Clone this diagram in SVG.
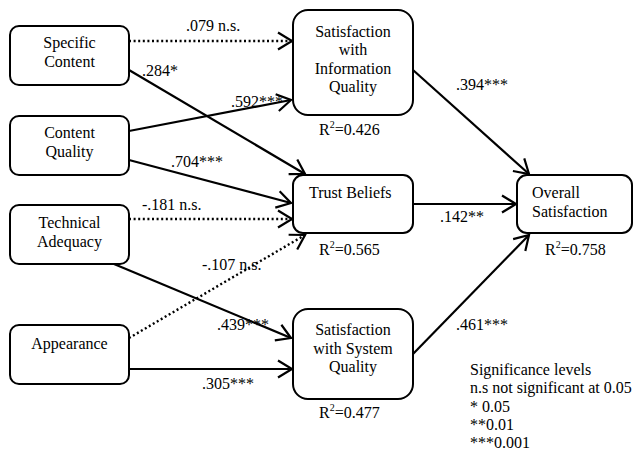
<svg xmlns="http://www.w3.org/2000/svg" width="634" height="452" viewBox="0 0 634 452">
<style>
text{font-family:"Liberation Serif","Times New Roman",serif;font-size:16px;fill:#000}
.box{fill:#fff;stroke:#000;stroke-width:2}
.c{text-anchor:middle}
.e{fill:none;stroke:#000;stroke-width:2.2;marker-end:url(#ah)}
.d{stroke-dasharray:2 2.6;stroke-width:2.4}
.sup{font-size:10px}
</style>
<defs>
<marker id="ah" markerUnits="userSpaceOnUse" markerWidth="20" markerHeight="20" viewBox="-16 -10 18 20" refX="0" refY="0" orient="auto" overflow="visible">
<path d="M-14,-8.5 L0,0 L-14,8.5" fill="none" stroke="#000" stroke-width="2.2" stroke-dasharray="none"/>
</marker>
</defs>
<rect width="634" height="452" fill="#fff"/>
<g id="connectors">
<line class="e d" x1="129" y1="41" x2="292" y2="41"/>
<line class="e" x1="129" y1="70" x2="305" y2="174"/>
<line class="e" x1="129" y1="131" x2="291" y2="100"/>
<line class="e" x1="129" y1="160" x2="291" y2="203"/>
<line class="e d" x1="129" y1="219" x2="292" y2="219"/>
<line class="e d" x1="129" y1="338" x2="305" y2="235"/>
<line class="e" x1="114" y1="264" x2="291" y2="338"/>
<line class="e" x1="129" y1="369" x2="292" y2="369"/>
<line class="e" x1="413" y1="70" x2="529" y2="174"/>
<line class="e" x1="413" y1="204" x2="516" y2="204"/>
<line class="e" x1="413" y1="354" x2="529" y2="235"/>
<text x="186" y="31">.079 n.s.</text>
<text x="142" y="76">.284*</text>
<text x="231" y="107">.592***</text>
<text x="171" y="167">.704***</text>
<text x="142" y="210">-.181 n.s.</text>
<text x="202" y="270">-.107 n.s.</text>
<text x="217" y="330">.439***</text>
<text x="202" y="389">.305***</text>
<text x="456" y="90">.394***</text>
<text x="440" y="222">.142**</text>
<text x="456" y="330">.461***</text>
</g>
<g id="specific-content">
<rect class="box" x="10" y="26" width="119" height="59" rx="9"/>
<text class="c" x="69.5" y="48">Specific</text>
<text class="c" x="69.5" y="67">Content</text>
</g>
<g id="content-quality">
<rect class="box" x="10" y="116" width="119" height="59" rx="9"/>
<text class="c" x="69.5" y="138">Content</text>
<text class="c" x="69.5" y="157">Quality</text>
</g>
<g id="technical-adequacy">
<rect class="box" x="10" y="205" width="119" height="59" rx="9"/>
<text class="c" x="69.5" y="228">Technical</text>
<text class="c" x="69.5" y="247">Adequacy</text>
</g>
<g id="appearance">
<rect class="box" x="10" y="325" width="119" height="59" rx="9"/>
<text class="c" x="69.5" y="349">Appearance</text>
</g>
<g id="satisfaction-information-quality">
<rect class="box" x="293" y="10" width="120" height="105" rx="15"/>
<text class="c" x="353" y="37">Satisfaction</text>
<text class="c" x="353" y="55">with</text>
<text class="c" x="353" y="74">Information</text>
<text class="c" x="353" y="92">Quality</text>
<text x="319" y="135">R<tspan class="sup" dy="-7">2</tspan><tspan dy="7">=0.426</tspan></text>
</g>
<g id="trust-beliefs">
<rect class="box" x="293" y="175" width="120" height="58" rx="10"/>
<text x="309" y="198">Trust Beliefs</text>
<text x="319" y="255">R<tspan class="sup" dy="-7">2</tspan><tspan dy="7">=0.565</tspan></text>
</g>
<g id="satisfaction-system-quality">
<rect class="box" x="293" y="309" width="120" height="90" rx="15"/>
<text class="c" x="353" y="335">Satisfaction</text>
<text class="c" x="353" y="354">with System</text>
<text class="c" x="353" y="372">Quality</text>
<text x="319" y="418">R<tspan class="sup" dy="-7">2</tspan><tspan dy="7">=0.477</tspan></text>
</g>
<g id="overall-satisfaction">
<rect class="box" x="517" y="175" width="115" height="58" rx="10"/>
<text x="532" y="198">Overall</text>
<text x="532" y="217">Satisfaction</text>
<text x="545" y="255">R<tspan class="sup" dy="-7">2</tspan><tspan dy="7">=0.758</tspan></text>
</g>
<g id="legend">
<text x="470" y="375">Significance levels</text>
<text x="470" y="393">n.s not significant at 0.05</text>
<text x="470" y="412">* 0.05</text>
<text x="470" y="430">**0.01</text>
<text x="470" y="448">***0.001</text>
</g>
</svg>
